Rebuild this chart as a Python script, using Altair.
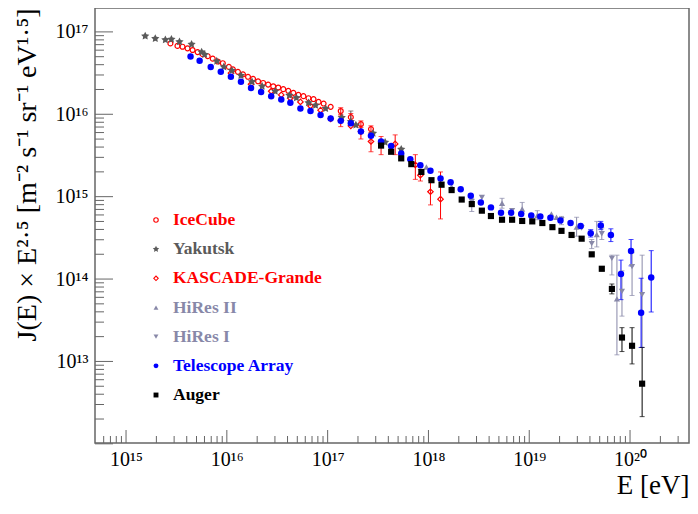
import altair as alt
import pandas as pd

# ---------------- series (log10 E [eV], log10 J*E^2.5) ----------------
ice_logE = [15.44, 15.51, 15.56, 15.61, 15.66, 15.71, 15.76, 15.81, 15.86, 15.91,
            15.96, 16.02, 16.06, 16.11, 16.16, 16.21, 16.26, 16.31, 16.36, 16.41,
            16.46, 16.51, 16.56, 16.61, 16.66, 16.71, 16.76, 16.81, 16.86, 16.91,
            16.96, 17.03, 17.13, 17.23, 17.33, 17.43]
ice_logJ = [16.86, 16.83, 16.82, 16.80, 16.78, 16.755, 16.73, 16.705, 16.675, 16.64,
            16.62, 16.575, 16.545, 16.515, 16.485, 16.455, 16.43, 16.40, 16.38, 16.36,
            16.34, 16.325, 16.305, 16.285, 16.26, 16.235, 16.22, 16.195, 16.185, 16.15,
            16.13, 16.09, 16.04, 15.965, 15.88, 15.82]
ice_err_logE = [17.13, 17.23, 17.33, 17.43]
ice_err_lo = [15.99, 15.92, 15.84, 15.78]
ice_err_hi = [16.08, 16.01, 15.92, 15.86]

yak_logE = [15.19, 15.29, 15.39, 15.45, 15.53, 15.65, 15.75, 15.78, 15.90, 15.97,
            16.05, 16.14, 16.25, 16.35, 16.48, 16.62, 16.69, 16.81, 16.88, 16.98,
            17.14, 17.23, 17.28, 17.45, 17.57, 17.73]
yak_logJ = [16.95, 16.92, 16.905, 16.91, 16.88, 16.85, 16.755, 16.725, 16.645, 16.575,
            16.53, 16.47, 16.395, 16.34, 16.28, 16.23, 16.20, 16.14, 16.11, 16.07,
            15.96, 15.91, 15.87, 15.77, 15.66, 15.575]
yak_err_logE = [17.23]
yak_err_lo = [15.87]
yak_err_hi = [16.04]

kg_logE = [16.04, 16.24, 16.44, 16.54, 16.63, 16.73, 16.83, 16.93, 17.03, 17.13,
           17.23, 17.33, 17.43, 17.53, 17.67, 17.87, 17.92, 18.02, 18.12]
kg_logJ = [16.50, 16.365, 16.28, 16.235, 16.195, 16.15, 16.10, 16.05, 15.945, 15.92,
           15.86, 15.79, 15.67, 15.65, 15.64, 15.385, 15.26, 15.06, 14.97]
kg_err_logE = [17.13, 17.33, 17.43, 17.53, 17.67, 17.87, 17.92, 18.02, 18.12]
kg_err_lo = [15.85, 15.70, 15.545, 15.51, 15.51, 15.21, 15.19, 14.90, 14.73]
kg_err_hi = [16.00, 15.86, 15.77, 15.73, 15.75, 15.51, 15.33, 15.20, 15.30]

hr2_logE = [17.98, 18.23, 18.73, 18.93, 19.08, 19.22, 19.27, 19.47, 19.67, 19.87]
hr2_logJ = [15.36, 15.12, 14.92, 14.85, 14.77, 14.79, 14.75, 14.63, 14.54, 13.76]
hr2_err_logE = [18.73, 18.93, 19.08, 19.47, 19.67, 19.87]
hr2_err_lo = [14.86, 14.80, 14.72, 14.52, 14.39, 13.08]
hr2_err_hi = [14.98, 14.93, 14.83, 14.75, 14.70, 14.29]

hr1_logE = [18.13, 18.43, 18.53, 18.83, 19.32, 19.52, 19.62, 19.72, 19.82, 19.92, 20.02, 20.12]
hr1_logJ = [15.15, 14.94, 14.99, 14.83, 14.72, 14.62, 14.43, 14.55, 14.25, 13.85, 14.15, 13.81]
hr1_err_logE = [18.43, 19.32, 19.62, 19.72, 19.82, 19.92, 20.02, 20.12]
hr1_err_lo = [14.82, 14.66, 14.37, 14.48, 14.05, 13.55, 13.80, 13.17]
hr1_err_hi = [14.98, 14.76, 14.48, 14.62, 14.29, 14.10, 14.32, 14.29]

ta_logE = [15.64, 15.73, 15.84, 15.94, 16.04, 16.14, 16.24, 16.34, 16.44, 16.54,
           16.63, 16.73, 16.83, 16.93, 17.03, 17.13, 17.23, 17.33, 17.43, 17.53,
           17.63, 17.73, 17.82, 17.92, 18.02, 18.12, 18.22, 18.32, 18.42, 18.52,
           18.62, 18.72, 18.82, 18.92, 19.02, 19.11, 19.21, 19.31, 19.41, 19.51,
           19.61, 19.71, 19.81, 19.91, 20.01, 20.11, 20.21]
ta_logJ = [16.70, 16.65, 16.575, 16.515, 16.455, 16.395, 16.32, 16.27, 16.22, 16.18,
           16.14, 16.07, 16.04, 15.99, 15.95, 15.92, 15.89, 15.79, 15.74, 15.67,
           15.615, 15.525, 15.455, 15.38, 15.315, 15.22, 15.175, 15.09, 15.01, 14.93,
           14.87, 14.805, 14.805, 14.79, 14.77, 14.76, 14.745, 14.71, 14.68, 14.645,
           14.555, 14.65, 14.535, 14.06, 14.34, 13.59, 14.02]
ta_err_logE = [19.61, 19.71, 19.81, 19.91, 20.01, 20.11, 20.21]
ta_err_lo = [14.51, 14.60, 14.455, 13.75, 14.16, 13.17, 13.60]
ta_err_hi = [14.60, 14.70, 14.61, 14.23, 14.48, 14.01, 14.345]

aug_logE = [17.53, 17.63, 17.73, 17.83, 17.93, 18.03, 18.13, 18.23, 18.33, 18.43,
            18.53, 18.62, 18.73, 18.83, 18.93, 19.03, 19.13, 19.23, 19.32, 19.42,
            19.52, 19.62, 19.72, 19.82, 19.92, 20.02, 20.12]
aug_logJ = [15.62, 15.545, 15.465, 15.395, 15.30, 15.20, 15.145, 15.08, 14.965, 14.91,
            14.83, 14.765, 14.72, 14.72, 14.705, 14.70, 14.68, 14.63, 14.585, 14.535,
            14.49, 14.30, 14.125, 13.88, 13.29, 13.19, 12.73]
aug_err_logE = [19.72, 19.82, 19.92, 20.02, 20.12]
aug_err_lo = [14.10, 13.82, 13.12, 12.97, 12.33]
aug_err_hi = [14.15, 13.94, 13.41, 13.41, 13.17]

# ---------------- series styling ----------------
names = ["IceCube", "Yakutsk", "KASCADE-Grande", "HiRes II", "HiRes I", "Telescope Array", "Auger"]
colors = ["#ff0000", "#5a5a5a", "#ff0000", "#8888a8", "#8888a8", "#0000ff", "#000000"]
STAR = ("M0,-1L0.2939,-0.4045L0.9511,-0.309L0.4755,0.1545L0.5878,0.809L0,0.5"
        "L-0.5878,0.809L-0.4755,0.1545L-0.9511,-0.309L-0.2939,-0.4045Z")
shapes = ["circle", STAR, "diamond", "triangle-up", "triangle-down", "circle", "square"]
marker_size = {"IceCube": 24, "Yakutsk": 75, "KASCADE-Grande": 30, "HiRes II": 38,
               "HiRes I": 38, "Telescope Array": 42, "Auger": 38}
open_names = ["IceCube", "KASCADE-Grande"]
star_names = ["Yakutsk"]

series = {
    "IceCube": (ice_logE, ice_logJ, ice_err_logE, ice_err_lo, ice_err_hi),
    "Yakutsk": (yak_logE, yak_logJ, yak_err_logE, yak_err_lo, yak_err_hi),
    "KASCADE-Grande": (kg_logE, kg_logJ, kg_err_logE, kg_err_lo, kg_err_hi),
    "HiRes II": (hr2_logE, hr2_logJ, hr2_err_logE, hr2_err_lo, hr2_err_hi),
    "HiRes I": (hr1_logE, hr1_logJ, hr1_err_logE, hr1_err_lo, hr1_err_hi),
    "Telescope Array": (ta_logE, ta_logJ, ta_err_logE, ta_err_lo, ta_err_hi),
    "Auger": (aug_logE, aug_logJ, aug_err_logE, aug_err_lo, aug_err_hi),
}

pts, errs = [], []
for order, nm in enumerate(names):
    lE, lJ, eE, elo, ehi = series[nm]
    for a, b in zip(lE, lJ):
        pts.append({"name": nm, "order": order, "E": 10 ** a, "J": 10 ** b,
                    "sz": marker_size[nm]})
    for a, lo, hi in zip(eE, elo, ehi):
        errs.append({"name": nm, "E": 10 ** a, "lo": 10 ** lo, "hi": 10 ** hi})
pts = pd.DataFrame(pts)
errs = pd.DataFrame(errs)
legend_df = pd.DataFrame({"name": names, "row": list(range(len(names)))})

# ---------------- axes / ticks ----------------
x_label_exps = [15, 16, 17, 18, 19, 20]
y_label_exps = [13, 14, 15, 16, 17]
y_major = [10.0 ** n for n in range(12, 18)]
y_minor = [k * 10.0 ** n for n in range(12, 17) for k in range(2, 10)]
x_major = [10.0 ** n for n in x_label_exps]
x_minor = ([k * 1e14 for k in range(6, 10)] +
           [k * 10.0 ** n for n in range(15, 20) for k in range(2, 10)] +
           [k * 1e20 for k in range(2, 4)])

sup = str.maketrans("0123456789", "⁰¹²³⁴⁵⁶⁷⁸⁹")


def lab_expr(exps):
    parts = [f"datum.value < {10 ** (n + 0.5):.6g} ? '10{str(n).translate(sup)}'" for n in exps]
    return " : ".join(parts) + " : ''"


FONT = "Liberation Serif"
W, H = 594, 435
xscale = alt.Scale(type="log", domain=[10 ** 14.692, 10 ** 20.585], nice=False)
yscale = alt.Scale(type="log", domain=[10 ** 12.01, 10 ** 17.29], nice=False)

xaxis = alt.Axis(values=x_major, labelExpr=lab_expr(x_label_exps), ticks=False, domain=False,
                 grid=False, labelFont=FONT, labelFontSize=20, labelColor="black",
                 labelPadding=6, labelFlush=False, labelOverlap=False,
                 title="E [eV]", titleFont=FONT, titleFontSize=27, titleFontWeight="normal",
                 titleColor="black", titleX=W, titleY=50, titleAlign="right",
                 titleBaseline="alphabetic")
yaxis = alt.Axis(values=[10.0 ** n for n in y_label_exps], labelExpr=lab_expr(y_label_exps),
                 ticks=False, domain=False, grid=False, labelFont=FONT, labelFontSize=20,
                 labelColor="black", labelPadding=7, labelFlush=False, labelOverlap=False,
                 title="J(E) × E²·⁵ [m⁻² s⁻¹ sr⁻¹ eV¹·⁵]", titleFont=FONT, titleFontSize=28,
                 titleFontWeight="normal", titleColor="black", titleAngle=270,
                 titleX=-60, titleY=0, titleAlign="right", titleBaseline="alphabetic")


def X(field="E"):
    return alt.X(f"{field}:Q", scale=xscale, axis=xaxis)


def Y(field="J"):
    return alt.Y(f"{field}:Q", scale=yscale, axis=yaxis)


color_enc = alt.Color("name:N", scale=alt.Scale(domain=names, range=colors), legend=None)
shape_enc = alt.Shape("name:N", scale=alt.Scale(domain=names, range=shapes), legend=None)
size_enc = alt.Size("sz:Q", scale=None, legend=None)

TICK_COL = "#666666"
ymaj = alt.Chart(pd.DataFrame({"J": y_major})).mark_rule(color=TICK_COL, strokeWidth=1).encode(
    y=Y(), x=alt.value(0), x2=alt.value(18))
ymin = alt.Chart(pd.DataFrame({"J": y_minor})).mark_rule(color=TICK_COL, strokeWidth=1).encode(
    y=Y(), x=alt.value(0), x2=alt.value(9))
xmaj = alt.Chart(pd.DataFrame({"E": x_major})).mark_rule(color=TICK_COL, strokeWidth=1).encode(
    x=X(), y=alt.value(H), y2=alt.value(H - 13))
xmin = alt.Chart(pd.DataFrame({"E": x_minor})).mark_rule(color=TICK_COL, strokeWidth=1).encode(
    x=X(), y=alt.value(H), y2=alt.value(H - 7))

err_rules = alt.Chart(errs).mark_rule(strokeWidth=1).encode(
    x=X(), y=Y("lo"), y2=alt.Y2("hi:Q"), color=color_enc)
err_caps = alt.Chart(errs).transform_fold(["lo", "hi"], as_=["end", "J"]).mark_tick(
    orient="horizontal", size=5, thickness=1).encode(
    x=X(), y=Y("J"), color=color_enc)

open_pts = alt.Chart(pts).transform_filter(
    alt.FieldOneOfPredicate(field="name", oneOf=open_names)).mark_point(
    filled=False, strokeWidth=1.2, opacity=1).encode(
    x=X(), y=Y(), color=color_enc, shape=shape_enc, size=size_enc)
filled_pts = alt.Chart(pts).transform_filter(
    {"not": alt.FieldOneOfPredicate(field="name", oneOf=open_names)}).mark_point(
    filled=True, opacity=1).encode(
    x=X(), y=Y(), color=color_enc, shape=shape_enc, size=size_enc)

leg_base = alt.Chart(legend_df).transform_calculate(py="212 + datum.row * 29.17")
leg_open = leg_base.transform_filter(
    alt.FieldOneOfPredicate(field="name", oneOf=open_names)).mark_point(
    filled=False, strokeWidth=1.1, opacity=1, size=20).encode(
    x=alt.value(61), y=alt.Y("py:Q", scale=None), color=color_enc, shape=shape_enc)
leg_filled = leg_base.transform_filter(
    {"not": alt.FieldOneOfPredicate(field="name", oneOf=open_names + star_names)}).mark_point(
    filled=True, opacity=1, size=24).encode(
    x=alt.value(61), y=alt.Y("py:Q", scale=None), color=color_enc, shape=shape_enc)
leg_star = leg_base.transform_filter(
    alt.FieldOneOfPredicate(field="name", oneOf=star_names)).mark_point(
    filled=True, opacity=1, size=45).encode(
    x=alt.value(61), y=alt.Y("py:Q", scale=None), color=color_enc, shape=shape_enc)
leg_text = leg_base.mark_text(font=FONT, fontSize=17.5, fontWeight="bold", align="left",
                              baseline="middle").encode(
    x=alt.value(78), y=alt.Y("py:Q", scale=None), text="name:N", color=color_enc)

chart = alt.layer(
    ymaj, ymin, xmaj, xmin, err_rules, err_caps, open_pts, filled_pts,
    leg_open, leg_filled, leg_star, leg_text
).properties(
    width=W, height=H,
    autosize=alt.AutoSizeParams(type="none"),
    padding={"left": 87, "top": 0, "right": 1, "bottom": 55},
    background="white",
).configure_view(stroke="#666666", strokeWidth=1.5)

chart.save("out.html", embed_options={"renderer": "svg", "actions": False})
